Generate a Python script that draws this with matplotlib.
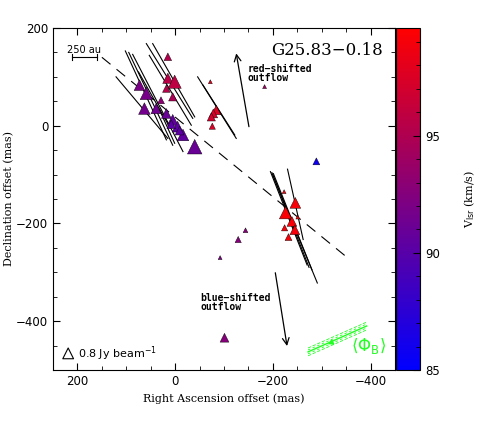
import numpy as np
import matplotlib
matplotlib.use('Agg')
import matplotlib.pyplot as plt
from matplotlib.colors import LinearSegmentedColormap, Normalize
from matplotlib.ticker import MultipleLocator

# maser spots: RA offset, Dec offset (mas), Vlsr (km/s), marker area
ra = [15, 15, 1, 18, 5, 73, 59, 63, 39, 29, 18, 5, -5, -16, -40, 8, -9,
      -72, -84, -78, -74, -76, -183,
      -289, -223, -246, -226, -239, -251, -224, -245, -232,
      -144, -129, -92, -101]
dec = [141, 97, 90, 76, 59, 83, 66, 35, 35, 52, 25, 12, -2, -19, -43, 3, -10,
       90, 32, 25, 18, -1, 80,
       -73, -135, -158, -178, -196, -187, -209, -213, -228,
       -214, -233, -270, -434]
vlsr = [95.2, 95.6, 95.8, 95.4, 94.8, 92.0, 91.8, 91.6, 91.4, 93.0, 91.0, 90.6, 90.4, 90.5, 91.0, 90.2, 90.3,
        98.0, 97.6, 97.2, 97.0, 97.4, 94.0,
        85.8, 99.0, 99.2, 99.3, 99.1, 99.0, 99.2, 99.0, 99.1,
        92.8, 92.6, 92.0, 92.6]
size = [30, 55, 90, 30, 35, 60, 80, 70, 55, 25, 50, 60, 60, 70, 110, 40, 40,
        8, 45, 40, 35, 20, 8,
        25, 8, 60, 80, 50, 8, 20, 50, 25,
        12, 20, 8, 40]

# polarization vectors (mas): x0, y0, x1, y1
vec_x0 = [102, 95, 87, 59, 46, 53, 121, 32, 75, -46, -57, -195, -198, -201, -200, -230]
vec_y0 = [153, 150, 146, 168, 168, 144, 100, 32, 110, 100, 83, -94, -96, -98, -101, -89]
vec_x1 = [18, 5, -16, -36, -40, -33, 15, 1, 10, -125, -122, -270, -274, -280, -291, -262]
vec_y1 = [-29, -40, -53, 15, 18, 1, -26, -36, -5, -26, -19, -285, -290, -295, -322, -233]

# outflow arrows (tail -> head)
red_arrow = [(-151, -2), (-125, 148)]
blue_arrow = [(-205, -301), (-229, -451)]

# dashed line through the cluster
dash_x = [150, -350]
dash_y = [140, -268]

vmin, vmax = 85, 99.6
cmap = LinearSegmentedColormap.from_list('br', ['#0000ff', '#ff0000'])
norm = Normalize(vmin, vmax)

fig = plt.figure(figsize=(4.91, 4.24), dpi=100)
ax = fig.add_axes([0.108, 0.1274, 0.6965, 0.8066])

ax.plot(dash_x, dash_y, color='k', lw=0.8, dashes=(10, 7))

for x0, y0, x1, y1 in zip(vec_x0, vec_y0, vec_x1, vec_y1):
    ax.plot([x0, x1], [y0, y1], color='k', lw=0.8)

sc = ax.scatter(ra, dec, s=size, c=vlsr, cmap=cmap, norm=norm, marker='^',
                edgecolors='k', linewidths=0.3, zorder=3)

for arr in (red_arrow, blue_arrow):
    ax.annotate('', xy=arr[1], xytext=arr[0],
                arrowprops=dict(arrowstyle='->', color='k', lw=0.9,
                                mutation_scale=12, shrinkA=0, shrinkB=0))

ax.text(-148, 107, 'red\u2212shifted\noutflow', fontsize=7, fontweight='bold',
        family='DejaVu Sans Mono', ha='left', va='center', linespacing=0.9)
ax.text(-51, -362, 'blue\u2212shifted\noutflow', fontsize=7, fontweight='bold',
        family='DejaVu Sans Mono', ha='left', va='center', linespacing=0.9)
ax.text(-425, 154, 'G25.83\u22120.18', fontsize=12, family='DejaVu Serif',
        ha='right', va='center')

# 250 au scale bar
ax.plot([211, 161], [140, 140], color='k', lw=0.8)
ax.plot([211, 211], [134, 146], color='k', lw=0.8)
ax.plot([161, 161], [134, 146], color='k', lw=0.8)
ax.text(186, 145, '250 au', fontsize=7, ha='center', va='bottom', family='DejaVu Sans')

# beam flux reference
ax.scatter([219], [-466], s=60, marker='^', facecolors='none', edgecolors='k', linewidths=0.8)
ax.text(198, -466, '0.8 Jy beam$^{-1}$', fontsize=8, ha='left', va='center')

# mean magnetic field direction
g = '#22ff22'
for off, lw, ls in [(0, 1.0, '-'), (-8, 0.6, (0, (4, 2))), (8, 0.6, (0, (4, 2))), (-4, 0.6, (0, (3, 3))), (4, 0.6, (0, (3, 3)))]:
    ax.plot([-272, -392], [-463 + off, -410 + off], color=g, lw=lw, ls=ls)
ax.scatter([-318], [-443], marker=(3, 0, 115), s=14, color=g)
ax.text(-395, -450, r'$\langle\Phi_{\rm B}\rangle$', fontsize=12, color=g,
        ha='center', va='center')

ax.set_xlim(250, -450)
ax.set_ylim(-500, 200)
ax.set_xticks([200, 0, -200, -400])
ax.set_yticks([200, 0, -200, -400])
ax.xaxis.set_minor_locator(MultipleLocator(50))
ax.yaxis.set_minor_locator(MultipleLocator(50))
ax.tick_params(which='both', direction='in', top=True, right=True, labelsize=8.5)
ax.tick_params(which='major', length=5)
ax.tick_params(which='minor', length=3)
ax.set_xticklabels(['200', '0', '\u2212200', '\u2212400'])
ax.set_yticklabels(['200', '0', '\u2212200', '\u2212400'])
ax.set_xlabel('Right Ascension offset (mas)', fontsize=8, family='DejaVu Serif')
ax.set_ylabel('Declination offset (mas)', fontsize=8, family='DejaVu Serif', labelpad=1)

cax = fig.add_axes([0.8065, 0.1274, 0.049, 0.8066])
cb = fig.colorbar(sc, cax=cax)
cb.set_ticks([85, 90, 95])
cb.ax.yaxis.set_minor_locator(MultipleLocator(1))
cb.ax.tick_params(which='both', direction='in', labelsize=8.5, color='k')
cb.ax.tick_params(which='major', length=5)
cb.ax.tick_params(which='minor', length=3)
cb.outline.set_linewidth(0.8)
cb.set_label(r'V$_{\rm lsr}$ (km/s)', fontsize=8, family='DejaVu Serif', labelpad=16)

fig.savefig('out.png', dpi=100)
